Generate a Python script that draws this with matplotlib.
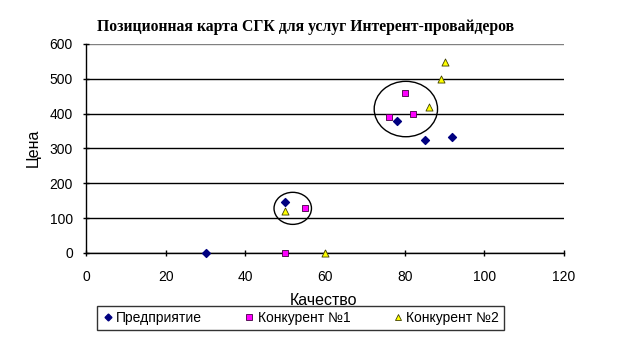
import matplotlib.pyplot as plt
from matplotlib.patches import Ellipse
from matplotlib.lines import Line2D

# Данные
predpr_x = [30, 50, 78, 85, 92]
predpr_y = [0, 147, 380, 323, 334]
konk1_x = [50, 55, 76, 80, 82]
konk1_y = [0, 130, 390, 460, 400]
konk2_x = [50, 60, 86, 89, 90]
konk2_y = [120, 0, 420, 498, 547]

fig = plt.figure(figsize=(6.17, 3.4), dpi=100)
ax = fig.add_axes([0.1394, 0.256, 0.7747, 0.615])

ax.set_xlim(0, 120)
ax.set_ylim(0, 600)
ax.set_xticks(range(0, 121, 20))
ax.set_yticks(range(0, 601, 100))
ax.yaxis.grid(True, color='black', linewidth=1)
ax.set_axisbelow(True)
for s in ['top', 'right']:
    ax.spines[s].set_visible(False)
for s in ['left', 'bottom']:
    ax.spines[s].set_color('black')
    ax.spines[s].set_linewidth(1)
ax.tick_params(direction='inout', length=5, width=1, labelsize=10, colors='black')
ax.tick_params(axis='x', pad=10)
ax.tick_params(axis='y', pad=7)
for lbl in ax.get_xticklabels() + ax.get_yticklabels():
    lbl.set_family('Liberation Sans')
# верхняя линия сетки серая, как рамка области построения
ax.get_ygridlines()[-1].set_color('#808080')

ax.scatter(predpr_x, predpr_y, marker='D', s=16, color='#000080', zorder=3, clip_on=False)
ax.scatter(konk1_x, konk1_y, marker='s', s=22, facecolor='#FF00FF', edgecolor='#400040',
           linewidth=0.6, zorder=3, clip_on=False)
ax.scatter(konk2_x, konk2_y, marker='^', s=26, facecolor='#FFFF00', edgecolor='#404000',
           linewidth=0.6, zorder=3, clip_on=False)

# Выделенные группы
ax.add_patch(Ellipse((80.3, 413), 15.9, 159, fill=False, edgecolor='black', linewidth=1, zorder=4))
ax.add_patch(Ellipse((51.9, 128), 9.4, 92, fill=False, edgecolor='black', linewidth=1, zorder=4))

ax.set_xlabel('Качество', family='Liberation Sans', fontsize=11.5, va='center')
ax.xaxis.set_label_coords(0.496, -0.225)
ax.set_ylabel('Цена', family='Liberation Sans', fontsize=11.5, va='center')
ax.yaxis.set_label_coords(-0.111, 0.502)

fig.text(0.157, 0.92, 'Позиционная карта СГК для услуг Интерент-провайдеров',
         family='Liberation Serif', fontweight='bold', fontsize=11.3, va='center')

handles = [
    Line2D([], [], marker='D', linestyle='none', color='#000080', markersize=3.5),
    Line2D([], [], marker='s', linestyle='none', markerfacecolor='#FF00FF',
           markeredgecolor='#400040', markeredgewidth=0.6, markersize=4.5),
    Line2D([], [], marker='^', linestyle='none', markerfacecolor='#FFFF00',
           markeredgecolor='#404000', markeredgewidth=0.6, markersize=5),
]
leg = fig.legend(handles, ['Предприятие', 'Конкурент №1', 'Конкурент №2'],
                 loc='center', bbox_to_anchor=(0.487, 0.064), ncol=3,
                 prop={'family': 'Liberation Sans', 'size': 10},
                 frameon=True, fancybox=False, edgecolor='black',
                 handletextpad=0.2, columnspacing=3.0, borderpad=0.35,
                 handlelength=0.8, borderaxespad=0)
leg.get_frame().set_linewidth(1)

fig.savefig('out.png', dpi=100)
